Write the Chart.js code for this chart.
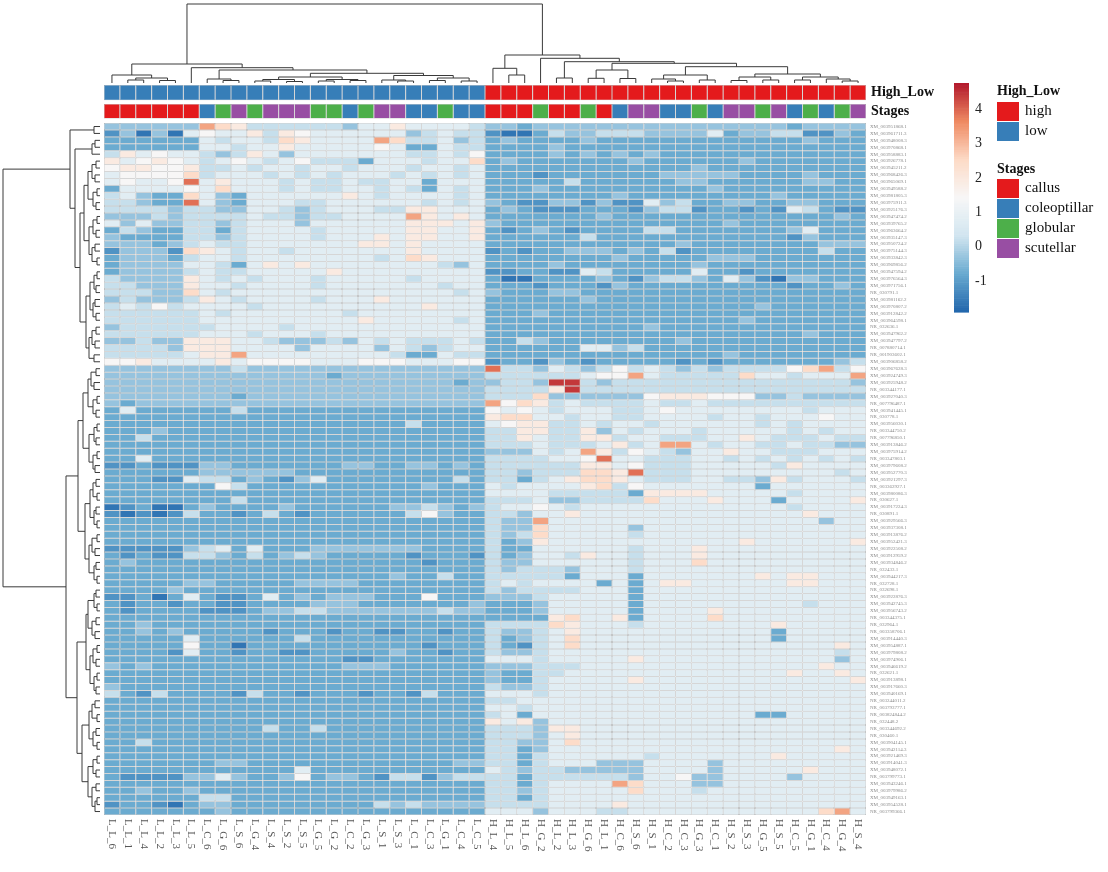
<!DOCTYPE html>
<html>
<head>
<meta charset="utf-8">
<title>High / Low expression heatmap</title>
<script src="https://cdn.jsdelivr.net/npm/chart.js@4.4.0/dist/chart.umd.min.js"></script>
<style>
  html, body { margin: 0; padding: 0; background: #fff; }
  canvas { display: block; }
</style>
</head>
<body>
<canvas id="heatmap" width="1108" height="872"></canvas>
<script>
// samples, in the column order of the dendrogram
const lowLabels = ["L_L_6","L_L_1","L_L_4","L_L_2","L_L_3","L_L_5","L_C_6","L_G_6","L_S_6","L_G_4","L_S_4","L_S_2",
  "L_S_5","L_G_5","L_G_2","L_C_2","L_G_3","L_S_1","L_S_3","L_C_1","L_C_3","L_G_1","L_C_4","L_C_5"];
const highLabels = ["H_L_4","H_L_5","H_L_6","H_G_2","H_L_2","H_L_3","H_G_6","H_L_1","H_C_6","H_S_6","H_S_1","H_C_2",
  "H_C_3","H_G_3","H_C_1","H_S_2","H_S_3","H_G_5","H_S_5","H_C_5","H_G_1","H_C_4","H_G_4","H_S_4"];
const stages = [
  "callus","callus","callus","callus","callus","callus","coleoptillar","globular","scutellar","globular","scutellar","scutellar",
  "scutellar","globular","globular","coleoptillar","globular","scutellar","scutellar","coleoptillar","coleoptillar","globular","coleoptillar","coleoptillar",
  "callus","callus","callus","globular","callus","callus","globular","callus","coleoptillar","scutellar","scutellar","coleoptillar",
  "coleoptillar","globular","coleoptillar","scutellar","scutellar","globular","scutellar","coleoptillar","globular","coleoptillar","globular","scutellar"];

// genes, in the row order of the dendrogram
const rowLabels = [
  "XM_003951868.1","XM_003961711.3","XM_003948008.3","XM_003970868.1","XM_003958883.1","XM_003926778.1","XM_003945211.2",
  "XM_003968426.3","XM_003965069.1","XM_003949588.2","XM_003981805.3","XM_003975911.3","XM_003925176.3","XM_003947474.2",
  "XM_003939765.2","XM_003963664.2","XM_003935147.3","XM_003950724.2","XM_003975144.3","XM_003933842.3","XM_003969856.2",
  "XM_003947594.2","XM_003976564.3","XM_003971756.1","NR_030791.1","XM_003981162.2","XM_003970807.2","XM_003912842.2",
  "XM_003964598.1","NR_032636.1","XM_003947962.2","XM_003947797.2","NR_007880714.1","NR_001903602.1","XM_003906858.2",
  "XM_003967628.3","XM_003924749.3","XM_003925948.2","NR_003344177.1","XM_003927040.3","NR_007796487.1","XM_003941445.1",
  "NR_030778.1","XM_003956030.1","NR_003344750.2","NR_007796850.1","XM_003913846.2","XM_003975914.2","NR_003347803.1",
  "XM_003979608.2","XM_003952770.3","XM_003921297.3","NR_003362927.1","XM_003980086.3","NR_030627.1","XM_003917224.3",
  "NR_030891.1","XM_003929566.3","XM_003937308.1","XM_003913876.2","XM_003952421.3","XM_003922508.2","XM_003912959.2",
  "XM_003934846.2","NR_032433.1","XM_003944217.3","NR_032728.1","NR_032698.1","XM_003922876.3","XM_003942745.3",
  "XM_003956743.2","NR_003344375.1","NR_032964.1","NR_003358706.1","XM_003914440.3","XM_003954887.1","XM_003979808.2",
  "XM_003974906.1","XM_003946619.2","NR_032621.1","XM_003913898.1","XM_003917660.3","XM_003940169.1","NR_003244011.2",
  "NR_003793777.1","NR_003824844.2","NR_032448.2","NR_003344692.2","NR_030460.1","XM_003904145.1","XM_003942114.3",
  "XM_003921469.3","XM_003914041.3","XM_003948072.1","NR_003799773.1","XM_003943246.1","XM_003979986.2","XM_003949163.1",
  "XM_003954528.1","NR_003799366.1"];

// row z-score, one character per cell (0 = darkest blue ... b = darkest red)
const levelValues = [-1.65, -1.15, -0.75, -0.3, 0.2, 0.8, 1.45, 1.95, 2.5, 3.3, 3.9, 4.45];

// the 24 low samples
const lowGroup = [
  "333333987444444355755554","130305655747655555534544","222222545548755559844534","222222554557555556522544",
  "475655434753555555544546","756765456545644425554558","677667445455455455545545","566668455545454555454545",
  "56556a575554544544552555","255556585554544554542545","453228532555555754555545","44322a532555445555554545",
  "444434433554345554477555","333434444544344555597575","535334434555355555577757","243224424555545555577557",
  "322224434555545557577557","333234544555555577575555","133318754554555555575555","233324554555555554587555",
  "233335542575755555555435","233334544555557555555555","433337545455545555545555","443337554555545555555455",
  "444338545555555555555545","343334754555545557555555","454645555455555555557555","444444545555555455555555",
  "444444555555555575555545","344444455554555555555555","444444555455545555555555","334337775543334354544454",
  "444437775555355553543455","444445779555555555422544","667555575666655566655566",
  "333333334333333333333333","333333333333332333333333","333333333333333333333323","333333333333333333333333",
  "333333332333333333333333","323333333333333333333333","252222224222222222222222","222222222222222222222222",
  "222222222222222222242222","222322222222222222222222","224222222222222222222222","222222222222222222222222",
  "222222222222222222222222","225222222222222222222222","112111332222222332233232","222222333333222222222222",
  "222115442321352222222242","222222264222222222223222","222222222222222222222222","222222224222222222222222",
  "012002322223222222334323","101014221242122222246322","222222222222222222222222","222222222222222222222222",
  "222222222222222222222222","222222222222222222222222","111113452522233333332222","212114432423432222212221",
  "232222222222222222221222","222222222222222222222222","222222222222222222322422","222223322222333322222222",
  "222232222222222222222222","112025211252323332226222","212212211222233322222223","212222111233443333333433",
  "222222222222222222222222","223222222222222222222222","223232222212221221122122","222225222222422222222222",
  "222226220222222222221222","222215221221122222322122","222222222222222112222222","323222222222222333222222",
  "222222222222222222222222","222222222222222222222222","322222222222222222222222","421422221422122212214222",
  "222222222222222222222222","222222222222222222222222","222222222222222222222222","222222222222222222222222",
  "222222222242242222222222","222222222222222222222222","224222222222222222222222","222222222222222222222222",
  "222222222222222222222222","222222233222222222222233","222222222222522222222222","211113353223623321441344",
  "222222222222222222222222","223223222222222222222222","222222442222222222222222","122102332222222224343333",
  "222222232222222222222222"];

// the 24 high samples
const highGroup = [
  "332333333333333333323333","100243344433335233441132","232222322222222222223222","222232222222222222222222",
  "222232323232222222222222","232222222322222232222222","222222222222232222222222","222122222223333322223222",
  "222224222222332222223322","222322222222223222222222","222222223222222222322222","321133131153422332233222",
  "232111222134412212154211","222222232222222222222232","322222222222222322222222","212321222244222222235222",
  "222222422222222222213222","222222222222322222222333","121223332324122222222422","222222223222223332222222",
  "222232222222232222222222","112211542222252212222222","200222232134432531033222","222122213222222222212232",
  "322233222222222222222222","222222322222222222222222","222222222222222223222222","222322222222222222222222",
  "222222222222222232222222","222222222232222222222222","222222222222222222223222","224322222222322222222222",
  "222222553422222222222222","222222222222222322222222","122132122222121222222234",
  "a44354346454343444468946","444444566954444485545559","3443bb434444444444444443","44447b444444444444444444",
  "444833333367776663343333","968745444454454444444444","656545554456555555554555","788554554455554554555655",
  "567744545545555554545555","447744735455545555545455","447544774554445575444544","444544457459954554454433",
  "333545974654355755444555","4444556a5544455454545454","444444775644455555475555","443444887a44455555555545",
  "442457887544455443745554","545555784655555552555555","555544444277775555545555","444533444485557555255557",
  "455654555555555555545555","443557555555555555557555","433955555555555555555355","433855555355555555555555",
  "434855555455555555555555","423755555555555575555557","422555555455575555555555","423554755455575555555555",
  "433555555455585555555555","434443555455555555555555","444442555255555557577555","454555525257755555577555",
  "434444555255555555555555","333455555255555555555555","222355555255555555554555","222355555255557555555555",
  "222278557255558555555555","444487555455555555755555","433457555555555555255555","423458555555555555255555",
  "421458555555555555555575","433455555555555555555545","555455555755555555555535","333444555555555555555755",
  "322445555555555555575575","322455555755555555555557","433455555555555555555555","555455555555555555555555",
  "445555555555555555555555","554555555555555555555555","452555555555555552255555","757355555555555555555555",
  "444377555555555555555555","444357555555555555555555","443358555555555555555555","442355555555555555555575",
  "442455555545555555755555","442455533355553555555555","543443333355553555557555","442444444355633555535555",
  "442455559855533555555555","443455555855545555555555","442455555555555555555555","444455557555555555555555",
  "555355544555555555555895"];

// dendrograms: [left, right, merge height], leaves are column / row indices
const colTree = [
  [[0, [[1, 2, 3], [3, 4, 2.5], 5], 8],
   [5, [[6, [7, 8, 2.5], 4],
        [[[[9, 10, 2], [11, 12, 1.5], 3.5], [[13, 14, 2], [15, 16, 2.5], 3.5], 6],
         [[17, [18, 19, 2], 3], [[20, 21, 2.5], [22, 23, 2], 5], 7.5], 9.7], 13], 15.3], 19],
  [[24, [25, 26, 8], 14.7],
   [27, [[28, 29, 5],
         [[[30, 31, 4.7], [32, 33, 4.5], 13],
          [[[34, [35, 36, 2], 4], [37, 38, 3], 8],
           [[[39, 40, 2.5], [41, 42, 3], 6], [[43, 44, 3], [45, [46, 47, 2], 4], 6], 9], 16.3], 19.7], 21.3], 24.7], 28],
  79];

const rowTopTree = [[0, 1, 6],
  [[[2, 3, 5], 4, 8],
   [[[[[5, 6, 4], [7, 8, 5], 8], [[9, 10, 3], [11, 12, 4], 7], 12],
     [[[13, 14, 3], [15, 16, 4], 7], [[17, 18, 5], [19, 20, 3], 8], 11], 16],
    [[[[21, 22, 3], [23, 24, 4], 6], [[25, 26, 5], [27, 28, 4], 7], 10],
     [[[29, 30, 4], [31, 32, 5], 8], [33, 34, 6], 11], 14], 20], 25], 30];
const rowBottomTree = [
  [[[[[35, 36, 4], [37, 38, 6], 9], [[39, 40, 3], [41, 42, 4], 7], 12],
    [[[43, 44, 3], [45, 46, 4], 6], [[47, 48, 3], [49, 50, 5], 7], 11], 17],
   [[[[51, 52, 4], [53, 54, 3], 7], [[55, 56, 4], [57, 58, 3], 6], 10],
    [[[59, 60, 3], [61, 62, 5], 8], [[63, 64, 4], [65, 66, 3], 6], 11], 15], 22],
  [[[[[67, 68, 4], [69, 70, 3], 6], [[71, 72, 4], [73, 74, 5], 8], 12],
    [[[75, 76, 3], [77, 78, 4], 7], [[79, 80, 3], [81, 82, 4], 6], 10], 14],
   [[[[83, 84, 5], [85, 86, 3], 8], [[87, 88, 4], [89, 90, 3], 7], 11],
    [[[91, 92, 3], [93, 94, 4], 7], [[95, 96, 4], [[97, 98, 3], 99, 5], 8], 12], 18], 23], 34];
const rowTree = [rowTopTree, rowBottomTree, 97];

// colour key
const valueRange = [-1.9, 4.76];
const legendTicks = [-1, 0, 1, 2, 3, 4];
const highLowLegend = ["high", "low"];
const stageLegend = ["callus", "coleoptillar", "globular", "scutellar"];

const paletteStops = ["#2166AC", "#67A9CF", "#D1E5F0", "#F7F7F7", "#FDDBC7", "#EF8A62", "#B2182B"];
const annotColours = {
  high: "#E41A1C", low: "#377EB8",
  callus: "#E41A1C", coleoptillar: "#377EB8", globular: "#4DAF4A", scutellar: "#984EA3"
};

// annotation bands, in row units above the heatmap
const annotBands = { highLow: [-5.5, -3.3], stages: [-2.75, -0.65] };

const columns = lowLabels.concat(highLabels);
const highLow = lowLabels.map(() => "low").concat(highLabels.map(() => "high"));

function hexRgb(h) {
  return [1, 3, 5].map(i => parseInt(h.slice(i, i + 2), 16));
}
const stopRgb = paletteStops.map(hexRgb);

function colourFor(v) {
  let t = (v - valueRange[0]) / (valueRange[1] - valueRange[0]);
  t = Math.max(0, Math.min(1, t));
  const pos = t * (stopRgb.length - 1);
  const i = Math.min(Math.floor(pos), stopRgb.length - 2);
  const f = pos - i;
  const c = stopRgb[i].map((a, k) => Math.round(a + (stopRgb[i + 1][k] - a) * f));
  return `rgb(${c[0]},${c[1]},${c[2]})`;
}

const datasets = rowLabels.map((gene, r) => {
  const cells = lowGroup[r] + highGroup[r];
  return {
    label: gene,
    data: columns.map(() => [r, r + 1]),
    backgroundColor: columns.map((_, c) => colourFor(levelValues[parseInt(cells[c], 16)]))
  };
});
datasets.push({
  label: "High_Low",
  data: columns.map(() => annotBands.highLow),
  backgroundColor: highLow.map(k => annotColours[k])
});
datasets.push({
  label: "Stages",
  data: columns.map(() => annotBands.stages),
  backgroundColor: stages.map(k => annotColours[k])
});

const decor = {
  id: "decor",
  afterDraw(chart) {
    const { ctx, chartArea: area } = chart;
    const x = chart.scales.x, y = chart.scales.y;
    ctx.save();

    const seg = (x1, y1, x2, y2) => {
      ctx.beginPath();
      ctx.moveTo(x1, y1);
      ctx.lineTo(x2, y2);
      ctx.stroke();
    };
    ctx.strokeStyle = "#3a3a3a";
    ctx.lineWidth = 1;

    // column dendrogram
    const colBase = area.top - 2;
    const walkCol = node => {
      if (typeof node === "number") return { p: x.getPixelForValue(node), q: colBase };
      const a = walkCol(node[0]), b = walkCol(node[1]);
      const q = colBase - node[2];
      seg(a.p, a.q, a.p, q);
      seg(b.p, b.q, b.p, q);
      seg(a.p, q, b.p, q);
      return { p: (a.p + b.p) / 2, q };
    };
    walkCol(colTree);

    // row dendrogram
    const rowBase = area.left - 4;
    const walkRow = node => {
      if (typeof node === "number") return { p: y.getPixelForValue(node + 0.5), q: rowBase };
      const a = walkRow(node[0]), b = walkRow(node[1]);
      const q = rowBase - node[2];
      seg(a.q, a.p, q, a.p);
      seg(b.q, b.p, q, b.p);
      seg(q, a.p, q, b.p);
      return { p: (a.p + b.p) / 2, q };
    };
    walkRow(rowTree);

    // annotation names
    ctx.fillStyle = "#111";
    ctx.font = 'bold 14px "Liberation Serif"';
    ctx.textBaseline = "middle";
    ctx.textAlign = "left";
    ctx.fillText("High_Low", area.right + 5, y.getPixelForValue((annotBands.highLow[0] + annotBands.highLow[1]) / 2));
    ctx.fillText("Stages", area.right + 5, y.getPixelForValue((annotBands.stages[0] + annotBands.stages[1]) / 2));

    // gene names
    ctx.font = '5px "Liberation Serif"';
    ctx.fillStyle = "#8a8a8a";
    rowLabels.forEach((g, r) => ctx.fillText(g, area.right + 4, y.getPixelForValue(r + 0.5)));

    // sample names, turned to read downwards
    ctx.font = '11px "Liberation Serif"';
    ctx.fillStyle = "#555";
    columns.forEach((lab, i) => {
      ctx.save();
      ctx.translate(x.getPixelForValue(i), area.bottom + 4);
      ctx.rotate(Math.PI / 2);
      ctx.fillText(lab, 0, 0);
      ctx.restore();
    });

    // colour key
    const barLeft = 954, barW = 15, barTop = 83, barBottom = 312;
    const span = valueRange[1] - valueRange[0];
    const keyY = v => barBottom - (v - valueRange[0]) / span * (barBottom - barTop);
    const bands = 100;
    for (let k = 0; k < bands; k++) {
      const v0 = valueRange[0] + span * k / bands;
      const v1 = valueRange[0] + span * (k + 1) / bands;
      ctx.fillStyle = colourFor((v0 + v1) / 2);
      ctx.fillRect(barLeft, keyY(v1), barW, keyY(v0) - keyY(v1) + 0.6);
    }
    ctx.font = '14px "Liberation Serif"';
    ctx.fillStyle = "#222";
    legendTicks.forEach(t => ctx.fillText(String(t), barLeft + 21, keyY(t)));

    // annotation legends
    const legLeft = 997, boxW = 22, boxH = 19;
    ctx.font = 'bold 14px "Liberation Serif"';
    ctx.fillStyle = "#111";
    ctx.fillText("High_Low", legLeft, 91);
    ctx.font = '15px "Liberation Serif"';
    highLowLegend.forEach((k, i) => {
      const top = 102 + i * 20;
      ctx.fillStyle = annotColours[k];
      ctx.fillRect(legLeft, top, boxW, boxH);
      ctx.fillStyle = "#111";
      ctx.fillText(k, legLeft + 28, top + boxH / 2);
    });
    ctx.font = 'bold 14px "Liberation Serif"';
    ctx.fillText("Stages", legLeft, 169);
    ctx.font = '15px "Liberation Serif"';
    stageLegend.forEach((k, i) => {
      const top = 179 + i * 20;
      ctx.fillStyle = annotColours[k];
      ctx.fillRect(legLeft, top, boxW, boxH);
      ctx.fillStyle = "#111";
      ctx.fillText(k, legLeft + 28, top + boxH / 2);
    });

    ctx.restore();
  }
};

new Chart(document.getElementById("heatmap"), {
  type: "bar",
  data: { labels: columns, datasets },
  options: {
    responsive: false,
    animation: false,
    events: [],
    layout: { padding: { left: 104, right: 242, top: 85, bottom: 57 } },
    datasets: {
      bar: {
        grouped: false,
        barPercentage: 1,
        categoryPercentage: 1,
        borderColor: "#a3a3a3",
        borderWidth: 0.5,
        borderSkipped: false,
        inflateAmount: 0
      }
    },
    scales: {
      x: { type: "category", display: false, offset: true },
      y: { type: "linear", display: false, reverse: true, min: -5.5, max: 100 }
    },
    plugins: { legend: { display: false }, tooltip: { enabled: false } }
  },
  plugins: [decor]
});
</script>
</body>
</html>
